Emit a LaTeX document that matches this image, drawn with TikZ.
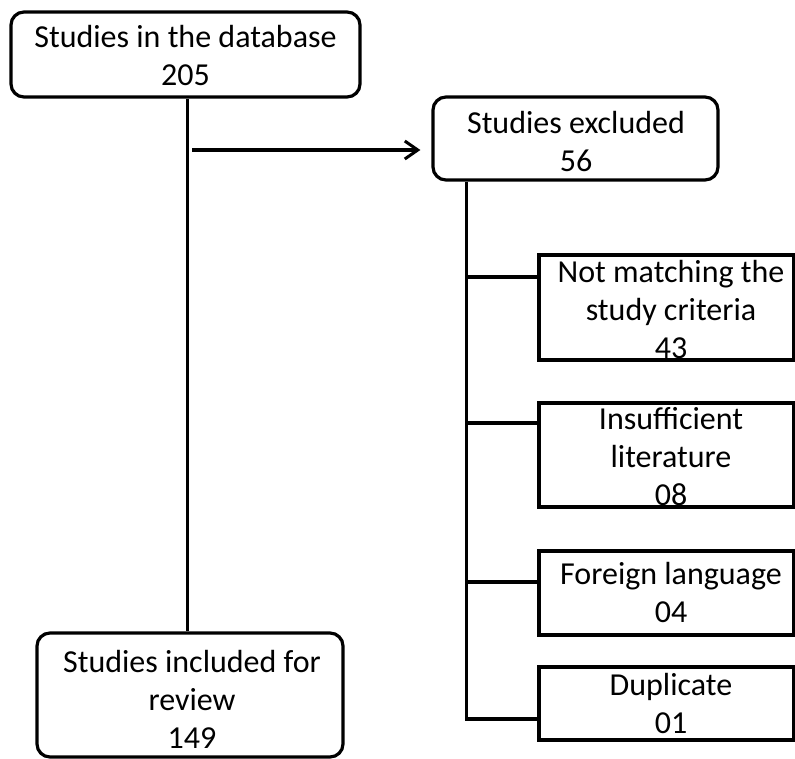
\documentclass[tikz,border=0pt]{standalone}
\usepackage{fontspec}
\setmainfont{Carlito}
\usetikzlibrary{arrows.meta}
\tikzset{
  rbox/.style={draw, line width=3.2pt, rounded corners=13pt, inner sep=0pt},
  sbox/.style={draw, line width=3.2pt, inner sep=0pt},
  lbl/.style={anchor=base, inner sep=0pt, font=\fontsize{32}{38}\selectfont},
  conn/.style={line width=3.2pt},
  arr/.style={conn, -{Straight Barb[length=13pt,width=18pt,line width=3pt]}, shorten >=11pt},
}
\newcommand{\lines}[1]{\begin{tabular}[t]{@{}c@{}}#1\end{tabular}}
\begin{document}
\begin{tikzpicture}[x=1pt,y=-1pt]
\useasboundingbox (0,0) rectangle (795,758);
% boxes
\node[rbox, minimum width=349pt, minimum height=85pt] (db) at (185.5,54.5) {};
\node[rbox, minimum width=285pt, minimum height=83pt] (excl) at (575.5,138.5) {};
\node[sbox, minimum width=255pt, minimum height=105pt] (c1) at (666.5,307.5) {};
\node[sbox, minimum width=255pt, minimum height=104pt] (c2) at (666.5,455) {};
\node[sbox, minimum width=255pt, minimum height=84pt] (c3) at (666.5,593) {};
\node[sbox, minimum width=255pt, minimum height=73pt] (c4) at (666.5,703.5) {};
\node[rbox, minimum width=306pt, minimum height=124pt] (incl) at (190,695) {};
% texts
\node[lbl] (tdb) at (185.5,47) {\lines{Studies in the database\\205}};
\node[lbl] (texcl) at (576,133) {\lines{Studies excluded\\56}};
\node[lbl] (tc1) at (671,282) {\lines{Not matching the\\study criteria\\43}};
\node[lbl] (tc2) at (671,429) {\lines{Insufficient\\literature\\08}};
\node[lbl] (tc3) at (671,584) {\lines{Foreign language\\04}};
\node[lbl] (tc4) at (671,695) {\lines{Duplicate\\01}};
\node[lbl] (tincl) at (192,672) {\lines{Studies included for\\review\\149}};
% connectors
\draw[conn] ([xshift=2pt]db.south) -- ([xshift=2pt]db.south |- incl.north);
\coordinate (a0) at (192,150);
\draw[arr] (a0) -- (a0 -| excl.west);
\coordinate (ex) at ([xshift=35pt]excl.south west);
\coordinate (b1) at ([yshift=30.5pt]c1.west);
\coordinate (b2) at ([yshift=32pt]c2.west);
\coordinate (b3) at ([yshift=11pt]c3.west);
\coordinate (b4) at ([yshift=-15.5pt]c4.west);
\draw[conn] (ex) -- (ex |- b4) -- (b4);
\draw[conn] (ex |- b1) -- (b1);
\draw[conn] (ex |- b2) -- (b2);
\draw[conn] (ex |- b3) -- (b3);
\end{tikzpicture}
\end{document}
